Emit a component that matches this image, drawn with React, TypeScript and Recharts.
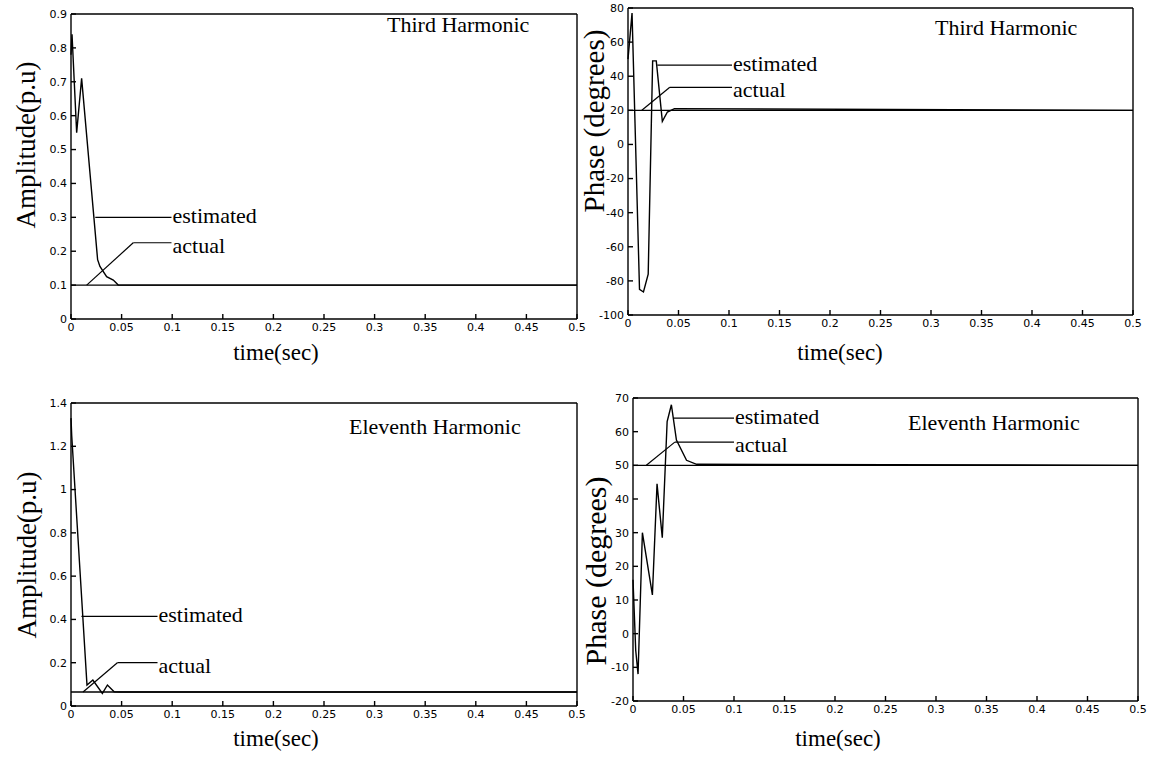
import React from "react";
import { LineChart, Line, XAxis, YAxis, ReferenceLine, ReferenceDot } from "recharts";

// shared time axis
const timeTicks = [0, 0.05, 0.1, 0.15, 0.2, 0.25, 0.3, 0.35, 0.4, 0.45, 0.5];

// third harmonic - amplitude (p.u)
const ampThirdTicks = [0, 0.1, 0.2, 0.3, 0.4, 0.5, 0.6, 0.7, 0.8, 0.9];
const ampThirdEstTime = [0, 0.001, 0.0056, 0.0105, 0.0263, 0.0286, 0.0352, 0.0418, 0.0467, 0.5];
const ampThirdEst = [0.78, 0.84, 0.55, 0.71, 0.175, 0.155, 0.125, 0.115, 0.1, 0.1];
const ampThirdActTime = [0, 0.5];
const ampThirdAct = [0.1, 0.1];

// third harmonic - phase (degrees)
const phThirdTicks = [-100, -80, -60, -40, -20, 0, 20, 40, 60, 80];
const phThirdEstTime = [0, 0.004, 0.0114, 0.0153, 0.02, 0.0244, 0.028, 0.034, 0.039, 0.046, 0.5];
const phThirdEst = [50, 77, -85, -86.5, -76, 49, 49, 13.5, 19, 21, 20];
const phThirdActTime = [0, 0.5];
const phThirdAct = [20, 20];

// eleventh harmonic - amplitude (p.u)
const ampEleventhTicks = [0, 0.2, 0.4, 0.6, 0.8, 1, 1.2, 1.4];
const ampEleventhEstTime = [0, 0.0007, 0.0158, 0.0216, 0.031, 0.036, 0.0426, 0.049, 0.5];
const ampEleventhEst = [1.33, 1.25, 0.097, 0.12, 0.058, 0.097, 0.066, 0.065, 0.065];
const ampEleventhActTime = [0, 0.5];
const ampEleventhAct = [0.065, 0.065];

// eleventh harmonic - phase (degrees)
const phEleventhTicks = [-20, -10, 0, 10, 20, 30, 40, 50, 60, 70];
const phEleventhEstTime = [0, 0.0027, 0.005, 0.0093, 0.0192, 0.0238, 0.029, 0.0338, 0.038, 0.043, 0.053, 0.063, 0.5];
const phEleventhEst = [16, -5, -12, 30, 11.5, 44.5, 28.5, 63, 68, 57.5, 51.5, 50.3, 50];
const phEleventhActTime = [0, 0.5];
const phEleventhAct = [50, 50];

const zip = (t: number[], v: number[]) => t.map((x, i) => ({ t: x, v: v[i] }));

const serif = "'Liberation Serif', 'Times New Roman', serif";
const sans = "'DejaVu Sans', sans-serif";

type PanelProps = {
  box: { x: number; y: number; w: number; h: number };
  plot: { l: number; r: number; t: number; b: number };
  yTicks: number[];
  est: { t: number; v: number }[];
  act: { t: number; v: number }[];
  estLead: { x0: number; y: number };
  actLead: { x0: number; y: number; dx: number; dy: number };
  labelX: number;
};

function Panel({ box, plot, yTicks, est, act, estLead, actLead, labelX }: PanelProps) {
  const yDomain = [yTicks[0], yTicks[yTicks.length - 1]];
  const tickStyle = { fill: "#000", fontSize: 11, fontFamily: sans };
  const labelStyle = { fill: "#000", fontSize: 22, fontFamily: serif };
  return (
    <div style={{ position: "absolute", left: box.x, top: box.y }}>
      <LineChart
        width={box.w}
        height={box.h}
        margin={{
          top: plot.t - box.y - 1,
          right: box.x + box.w - plot.r - 1,
          bottom: box.y + box.h - plot.b - 30,
          left: 0,
        }}
      >
        <XAxis
          xAxisId="b"
          dataKey="t"
          type="number"
          domain={[0, 0.5]}
          ticks={timeTicks}
          height={30}
          tickSize={-5}
          tickMargin={9}
          stroke="#000"
          strokeWidth={1.4}
          tick={tickStyle}
          tickFormatter={(v) => String(v)}
        />
        <XAxis
          xAxisId="top"
          orientation="top"
          dataKey="t"
          type="number"
          domain={[0, 0.5]}
          ticks={timeTicks}
          height={1}
          tickSize={-5}
          tick={false}
          stroke="#000"
          strokeWidth={1.4}
        />
        <YAxis
          yAxisId="l"
          type="number"
          domain={yDomain}
          ticks={yTicks}
          width={plot.l - box.x}
          tickSize={-5}
          tickMargin={9}
          stroke="#000"
          strokeWidth={1.4}
          tick={tickStyle}
          tickFormatter={(v) => String(v)}
        />
        <YAxis
          yAxisId="r"
          orientation="right"
          type="number"
          domain={yDomain}
          ticks={yTicks}
          width={1}
          tickSize={-5}
          tick={false}
          stroke="#000"
          strokeWidth={1.4}
        />
        <Line
          xAxisId="b"
          yAxisId="l"
          data={act}
          dataKey="v"
          type="linear"
          dot={false}
          stroke="#000"
          strokeWidth={1.4}
          isAnimationActive={false}
        />
        <Line
          xAxisId="b"
          yAxisId="l"
          data={est}
          dataKey="v"
          type="linear"
          dot={false}
          stroke="#000"
          strokeWidth={1.4}
          isAnimationActive={false}
        />
        <ReferenceLine
          xAxisId="b"
          yAxisId="l"
          segment={[{ x: estLead.x0, y: estLead.y }, { x: labelX, y: estLead.y }]}
          stroke="#000"
          strokeWidth={1.2}
          ifOverflow="visible"
        />
        <ReferenceLine
          xAxisId="b"
          yAxisId="l"
          segment={[{ x: actLead.dx, y: actLead.dy }, { x: actLead.x0, y: actLead.y }]}
          stroke="#000"
          strokeWidth={1.2}
          ifOverflow="visible"
        />
        <ReferenceLine
          xAxisId="b"
          yAxisId="l"
          segment={[{ x: actLead.x0, y: actLead.y }, { x: labelX, y: actLead.y }]}
          stroke="#000"
          strokeWidth={1.2}
          ifOverflow="visible"
        />
        <ReferenceDot
          xAxisId="b"
          yAxisId="l"
          x={labelX}
          y={estLead.y}
          r={0}
          fill="none"
          stroke="none"
          label={{ value: "estimated", position: "right", offset: 1, dy: -2, ...labelStyle }}
        />
        <ReferenceDot
          xAxisId="b"
          yAxisId="l"
          x={labelX}
          y={actLead.y}
          r={0}
          fill="none"
          stroke="none"
          label={{ value: "actual", position: "right", offset: 1, dy: 2, ...labelStyle }}
        />
      </LineChart>
    </div>
  );
}

function Txt({ x, y, size, children, rotate }: { x: number; y: number; size: number; children: string; rotate?: boolean }) {
  return (
    <div
      style={{
        position: "absolute",
        left: x,
        top: y,
        fontFamily: serif,
        fontSize: size,
        lineHeight: 1,
        whiteSpace: "nowrap",
        color: "#000",
        transform: rotate ? "translate(-50%, -50%) rotate(-90deg)" : "translate(0, -50%)",
      }}
    >
      {children}
    </div>
  );
}

function Center({ x, y, size, children }: { x: number; y: number; size: number; children: string }) {
  return (
    <div
      style={{
        position: "absolute",
        left: x,
        top: y,
        fontFamily: serif,
        fontSize: size,
        lineHeight: 1,
        whiteSpace: "nowrap",
        color: "#000",
        transform: "translate(-50%, -50%)",
      }}
    >
      {children}
    </div>
  );
}

export default function App() {
  return (
    <div style={{ position: "absolute", left: 0, top: 0, width: 1151, height: 758, background: "#fff", overflow: "hidden" }}>
      <Panel
        box={{ x: 0, y: 0, w: 600, h: 380 }}
        plot={{ l: 71, r: 577, t: 14, b: 319 }}
        yTicks={ampThirdTicks}
        est={zip(ampThirdEstTime, ampThirdEst)}
        act={zip(ampThirdActTime, ampThirdAct)}
        estLead={{ x0: 0.024, y: 0.3 }}
        actLead={{ x0: 0.0615, y: 0.225, dx: 0.0155, dy: 0.1 }}
        labelX={0.0993}
      />
      <Panel
        box={{ x: 575, y: 0, w: 576, h: 380 }}
        plot={{ l: 628, r: 1133, t: 8, b: 315 }}
        yTicks={phThirdTicks}
        est={zip(phThirdEstTime, phThirdEst)}
        act={zip(phThirdActTime, phThirdAct)}
        estLead={{ x0: 0.029, y: 46.5 }}
        actLead={{ x0: 0.0414, y: 33.5, dx: 0.0137, dy: 20 }}
        labelX={0.103}
      />
      <Panel
        box={{ x: 0, y: 380, w: 600, h: 378 }}
        plot={{ l: 71, r: 577, t: 403, b: 706 }}
        yTicks={ampEleventhTicks}
        est={zip(ampEleventhEstTime, ampEleventhEst)}
        act={zip(ampEleventhActTime, ampEleventhAct)}
        estLead={{ x0: 0.0103, y: 0.414 }}
        actLead={{ x0: 0.0458, y: 0.2, dx: 0.0119, dy: 0.065 }}
        labelX={0.0855}
      />
      <Panel
        box={{ x: 575, y: 380, w: 576, h: 378 }}
        plot={{ l: 633, r: 1138, t: 398, b: 701 }}
        yTicks={phEleventhTicks}
        est={zip(phEleventhEstTime, phEleventhEst)}
        act={zip(phEleventhActTime, phEleventhAct)}
        estLead={{ x0: 0.04, y: 64 }}
        actLead={{ x0: 0.0414, y: 56.9, dx: 0.0132, dy: 50 }}
        labelX={0.1}
      />

      <Txt x={387} y={25} size={22}>Third Harmonic</Txt>
      <Txt x={935} y={28} size={22}>Third Harmonic</Txt>
      <Txt x={349} y={427} size={22}>Eleventh Harmonic</Txt>
      <Txt x={908} y={423} size={22}>Eleventh Harmonic</Txt>

      <Txt x={26} y={145} size={27} rotate>Amplitude(p.u)</Txt>
      <Txt x={594} y={121} size={29} rotate>Phase (degrees)</Txt>
      <Txt x={27} y={555} size={27} rotate>Amplitude(p.u)</Txt>
      <Txt x={596} y={571} size={30} rotate>Phase (degrees)</Txt>

      <Center x={276} y={352} size={23}>time(sec)</Center>
      <Center x={840} y={352} size={23}>time(sec)</Center>
      <Center x={276} y={738} size={23}>time(sec)</Center>
      <Center x={838} y={738} size={23}>time(sec)</Center>
    </div>
  );
}
